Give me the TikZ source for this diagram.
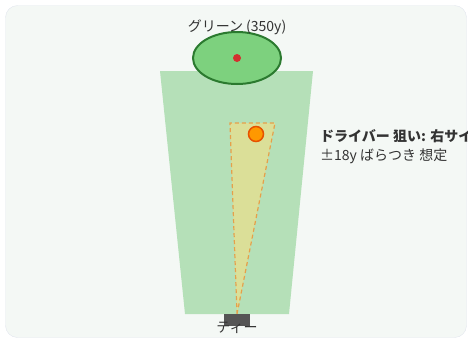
\documentclass[tikz,border=0pt]{standalone}
\usepackage{fontspec}
\setmainfont{Noto Sans CJK JP}
\usepackage{tikz}
\usetikzlibrary{positioning, calc, shapes.geometric}
\definecolor{myPanel}{HTML}{F4F8F5}
\definecolor{myFrame}{HTML}{E2E6EE}
\definecolor{myFairway}{HTML}{B5E0B8}
\definecolor{myGreen}{HTML}{7DD17E}
\definecolor{myGreenLine}{HTML}{2B7A2F}
\definecolor{myPin}{HTML}{D32F2F}
\definecolor{myCone}{HTML}{E8DF8E}
\definecolor{myConeLine}{HTML}{E6A04A}
\definecolor{myBall}{HTML}{FF9800}
\definecolor{myBallLine}{HTML}{E65100}
\definecolor{myTee}{HTML}{555555}
\definecolor{myText}{HTML}{333333}

\begin{document}
\begin{tikzpicture}[
  x=1pt, y=-1pt,
  lbl/.style={font=\fontsize{14}{16}\selectfont, text=myText, inner sep=0pt},
  note/.style={lbl, anchor=west},
]
  \useasboundingbox (0,0) rectangle (468,338);
  \draw[myFrame, fill=myPanel, rounded corners=12] (5.5,5.5) rectangle (466.5,337.5);

  % fairway
  \fill[myFairway] (160,71) -- (313,71) -- (289,314) -- (185,314) -- cycle;

  % green and pin
  \node[ellipse, draw=myGreenLine, line width=2pt, fill=myGreen,
        minimum width=88, minimum height=52, inner sep=0pt] (green) at (237,58) {};
  \fill[myPin] (green.center) circle (4);
  \node[lbl] (greenlbl) at (237,27) {グリーン (350y)};

  % dispersion cone
  \coordinate (teept) at (237,314);
  \fill[myCone, opacity=0.75] (teept) -- (230,123) -- (275,123) -- cycle;
  \draw[myConeLine, dash pattern=on 4pt off 3pt, line width=1.2pt]
    (teept) -- (230,123) -- (275,123) -- cycle;

  % aim point
  \node[circle, draw=myBallLine, line width=1.5pt, fill=myBall,
        minimum size=15, inner sep=0pt] (ball) at (256,134) {};

  \node[note, font=\fontsize{14}{16}\selectfont\bfseries] (aim) at (320,136) {ドライバー 狙い: 右サイ};
  \node[note] (spread) at (320,156) {±18y ばらつき 想定};

  % tee
  \node[fill=myTee, minimum width=26, minimum height=12, inner sep=0pt] (tee) at (237,320) {};
  \node[lbl] (teelbl) at (237,328) {ティー};
\end{tikzpicture}
\end{document}
